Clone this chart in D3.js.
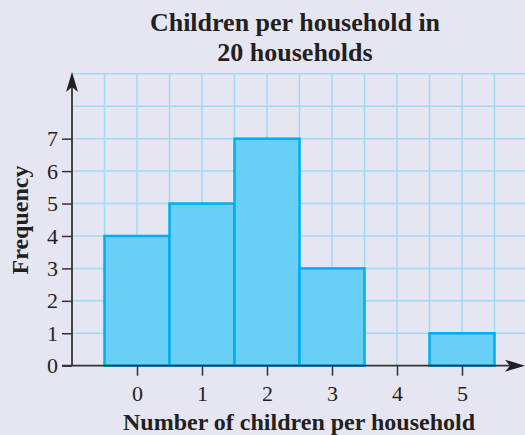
<!DOCTYPE html>
<html>
<head>
<meta charset="utf-8">
<script src="https://cdn.jsdelivr.net/npm/d3@7"></script>
<style>
  html, body { margin: 0; padding: 0; background: #e6e6f2; }
  svg { display: block; }
  text { font-family: "Liberation Serif", "Times New Roman", serif; fill: #231f20; }
</style>
</head>
<body>
<svg id="chart" width="525" height="435"></svg>
<script>
// Number of children in each household, and how many households had that many
const childrenCounts = [0, 1, 2, 3, 4, 5];
const frequencies = [4, 5, 7, 3, 0, 1];
const frequencyTicks = [0, 1, 2, 3, 4, 5, 6, 7];
const titleLines = ["Children per household in", "20 households"];
const xLabel = "Number of children per household";
const yLabel = "Frequency";

const W = 525, H = 435;
const svg = d3.select("#chart");
svg.append("rect").attr("width", W).attr("height", H).attr("fill", "#e6e6f2");

// one category = two grid squares; the axis sits half a grid past -1
const x = d3.scaleLinear().domain([-1, 6]).range([72, 527]);
const y = d3.scaleLinear().domain([0, 9]).range([365.7, 73.8]);

const gridColor = "#9fdbf4";
const axisColor = "#333333";

// square grid paper, every half category horizontally and every unit vertically
const grid = svg.append("g");
grid.selectAll("line.v")
  .data(d3.range(-0.5, 6.01, 0.5))
  .join("line")
  .attr("x1", d => x(d)).attr("x2", d => x(d))
  .attr("y1", y(9)).attr("y2", y(0))
  .attr("stroke", gridColor).attr("stroke-width", 1.5);
grid.selectAll("line.h")
  .data(d3.range(1, 10))
  .join("line")
  .attr("x1", x(-1)).attr("x2", W)
  .attr("y1", d => y(d)).attr("y2", d => y(d))
  .attr("stroke", gridColor).attr("stroke-width", 1.5);

// histogram bars
svg.append("g").selectAll("rect")
  .data(childrenCounts.map((c, i) => ({ c, f: frequencies[i] })).filter(d => d.f > 0))
  .join("rect")
  .attr("x", d => x(d.c - 0.5))
  .attr("y", d => y(d.f))
  .attr("width", d => x(d.c + 0.5) - x(d.c - 0.5))
  .attr("height", d => y(0) - y(d.f))
  .attr("fill", "#6acff6")
  .attr("stroke", "#00aeef")
  .attr("stroke-width", 2.5);

// axes
const yAxis = d3.axisLeft(y).tickValues(frequencyTicks).tickSize(10).tickPadding(4).tickFormat(d3.format("d"));
const yg = svg.append("g").attr("transform", `translate(${x(-1)},0)`).call(yAxis);
yg.select(".domain").remove();
yg.selectAll(".tick line").attr("stroke", axisColor).attr("stroke-width", 1.5);
yg.selectAll(".tick text").attr("font-size", 22).attr("font-family", "Liberation Serif").attr("fill", "#231f20");

const xAxis = d3.axisBottom(x).tickValues(childrenCounts).tickSize(10).tickPadding(10).tickFormat(d3.format("d"));
const xg = svg.append("g").attr("transform", `translate(0,${y(0)})`).call(xAxis);
xg.select(".domain").remove();
xg.selectAll(".tick line").attr("stroke", axisColor).attr("stroke-width", 1.5);
xg.selectAll(".tick text").attr("font-size", 22).attr("font-family", "Liberation Serif").attr("fill", "#231f20");

// axis lines with arrowheads
svg.append("line")
  .attr("x1", x(-1)).attr("x2", x(-1))
  .attr("y1", y(0)).attr("y2", 80)
  .attr("stroke", axisColor).attr("stroke-width", 1.8);
svg.append("line")
  .attr("x1", x(-1) - 10).attr("x2", 515)
  .attr("y1", y(0)).attr("y2", y(0))
  .attr("stroke", axisColor).attr("stroke-width", 1.8);

const ax = x(-1), ay = 72;
svg.append("path")
  .attr("d", `M${ax},${ay} L${ax + 6},${ay + 20} L${ax},${ay + 15} L${ax - 6},${ay + 20} Z`)
  .attr("fill", "#231f20");
const bx = 525, by = y(0);
svg.append("path")
  .attr("d", `M${bx},${by} L${bx - 20},${by - 6} L${bx - 15},${by} L${bx - 20},${by + 6} Z`)
  .attr("fill", "#231f20");

// title
svg.append("g").selectAll("text")
  .data(titleLines)
  .join("text")
  .attr("x", 295)
  .attr("y", (d, i) => 31 + i * 30)
  .attr("text-anchor", "middle")
  .attr("font-size", 26)
  .attr("font-weight", "bold")
  .text(d => d);

// axis titles
svg.append("text")
  .attr("x", 299).attr("y", 430)
  .attr("text-anchor", "middle")
  .attr("font-size", 24)
  .attr("font-weight", "bold")
  .text(xLabel);

svg.append("text")
  .attr("transform", "translate(28,220) rotate(-90)")
  .attr("text-anchor", "middle")
  .attr("font-size", 24)
  .attr("font-weight", "bold")
  .text(yLabel);
</script>
</body>
</html>
